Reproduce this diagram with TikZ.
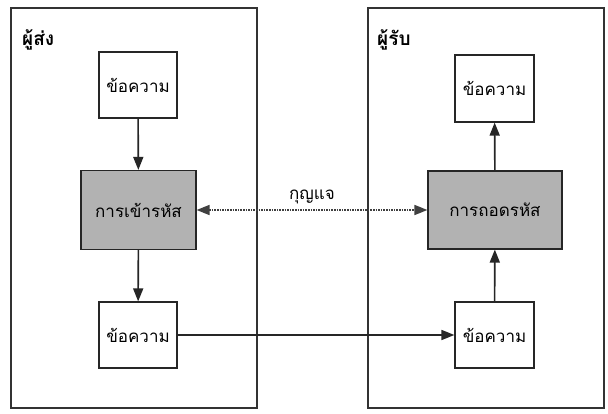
\documentclass[tikz,border=0pt]{standalone}
\usepackage{fontspec}
\newfontfamily\thaifont[Script=Thai]{Loma}
\usetikzlibrary{arrows.meta}
\begin{document}
\begin{tikzpicture}[x=1pt,y=-1pt,
  container/.style={draw=black!80,line width=1.1pt},
  boxfont/.style={font=\thaifont\fontsize{17}{20}\selectfont},
  msgbox/.style={draw=black!85,line width=1.2pt,fill=white,minimum width=78pt,minimum height=66pt,inner sep=0pt,boxfont},
  procbox/.style={draw=black!85,line width=1.2pt,fill=black!30,minimum height=79pt,inner sep=0pt,boxfont},
  flow/.style={line width=1.6pt,draw=black!85,-{Triangle[length=13pt,width=10pt]}},
  keyarrow/.style={line width=1.6pt,draw=black!75,densely dotted,{Triangle[length=13pt,width=10pt]}-{Triangle[length=13pt,width=10pt]}},
  title/.style={font=\thaifont\bfseries\fontsize{19}{22}\selectfont,anchor=west,inner sep=0pt}]
\useasboundingbox (0,0) rectangle (608,414);
\fill[white] (0,0) rectangle (608,414);
\draw[container] (11,8) rectangle (257,408);
\draw[container] (368,8) rectangle (604,408);
\node[title] (sender) at (22,40) {ผู้ส่ง};
\node[title] (receiver) at (377,40) {ผู้รับ};
\node[msgbox] (m1) at (138,85) {ข้อความ};
\node[procbox,minimum width=115pt] (enc) at (138.5,210) {การเข้ารหัส};
\node[msgbox] (m2) at (138,335) {ข้อความ};
\node[msgbox,minimum width=79pt,minimum height=67pt] (m4) at (494.5,88.5) {ข้อความ};
\node[procbox,minimum width=134pt,minimum height=78pt] (dec) at (495,210) {การถอดรหัส};
\node[msgbox,minimum width=79pt] (m3) at (494.5,335) {ข้อความ};
\draw[flow] (m1) -- (enc);
\draw[flow] (enc) -- (m2);
\draw[flow] (m2) -- (m3);
\draw[flow] (m3) -- (dec);
\draw[flow] (dec) -- (m4);
\draw[keyarrow] (enc) -- node[above=2pt,boxfont] (key) {กุญแจ} (dec);
\end{tikzpicture}
\end{document}
